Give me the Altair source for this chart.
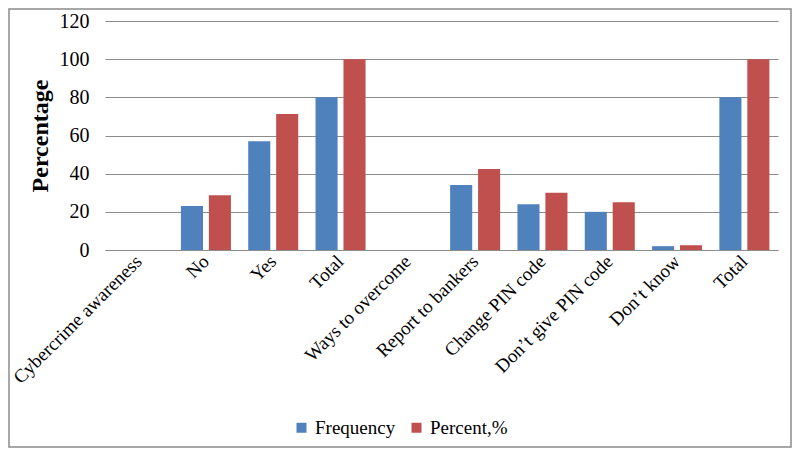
import altair as alt
import pandas as pd

categories = ["Cybercrime awareness", "No", "Yes", "Total", "Ways to overcome",
              "Report to bankers", "Change PIN code", "Don\u2019t give PIN code",
              "Don\u2019t know", "Total"]
frequency = [None, 23, 57, 80, None, 34, 24, 20, 2, 80]
percent = [None, 28.75, 71.25, 100, None, 42.5, 30, 25, 2.5, 100]
series = ["Frequency", "Percent,%"]

rows = []
for i, c in enumerate(categories):
    for s, vals in zip(series, [frequency, percent]):
        if vals[i] is not None:
            rows.append({"idx": i, "series": s, "value": vals[i]})
df = pd.DataFrame(rows)

label_arr = "[" + ",".join('"%s"' % c for c in categories) + "]"
FONT = "Liberation Serif"

W, H = 673, 229
PL, PT, PR, PB = 97, 13, 14, 198

bars = alt.Chart(df).mark_bar().encode(
    x=alt.X("idx:O", scale=alt.Scale(domain=list(range(len(categories))),
                                     paddingInner=0.257, paddingOuter=0.128),
            axis=alt.Axis(title=None, labelExpr=label_arr + "[datum.value]",
                          labelAngle=-45, labelAlign="right", labelBaseline="middle",
                          labelFont=FONT, labelFontSize=19, labelColor="#000000",
                          labelPadding=8, ticks=False, domainColor="#8c8c8c",
                          labelOverlap=False, labelLimit=300)),
    xOffset=alt.XOffset("series:N", scale=alt.Scale(domain=series, paddingInner=0.21)),
    y=alt.Y("value:Q", scale=alt.Scale(domain=[0, 120]),
            axis=alt.Axis(title="Percentage", values=[0, 20, 40, 60, 80, 100, 120],
                          titleFont=FONT, titleFontSize=24, titleFontWeight="bold",
                          titleColor="#000000", titlePadding=7,
                          labelFont=FONT, labelFontSize=20, labelColor="#000000",
                          labelPadding=16, ticks=False, domain=False,
                          gridColor="#8c8c8c", gridWidth=1)),
    color=alt.Color("series:N", scale=alt.Scale(domain=series, range=["#4F81BD", "#C0504D"]),
                    legend=alt.Legend(title=None, orient="none", direction="horizontal",
                                      legendX=187, legendY=397, symbolType="square",
                                      symbolSize=100, symbolStrokeWidth=0, labelOffset=4,
                                      labelFont=FONT, labelFontSize=19, labelColor="#000000",
                                      columnPadding=11)),
)

border = alt.Chart(pd.DataFrame({"a": [0]})).mark_rect(
    fill=None, stroke="#8c8c8c", strokeWidth=1.5
).encode(
    x=alt.value(-PL + 1), x2=alt.value(W + PR - 1),
    y=alt.value(-PT + 1), y2=alt.value(H + PB - 1),
)

chart = alt.layer(bars, border).properties(
    width=W, height=H,
    autosize=alt.AutoSizeParams(type="none"),
    padding={"left": PL, "top": PT, "right": PR, "bottom": PB},
    background="#ffffff",
).configure_view(stroke=None)

chart.save("out.html", embed_options={"renderer": "svg", "actions": False})
